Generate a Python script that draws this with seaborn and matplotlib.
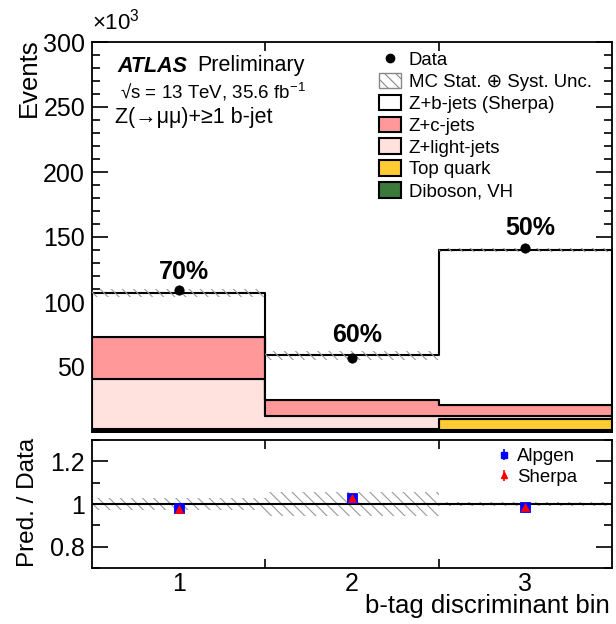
import numpy as np
import pandas as pd
import matplotlib
matplotlib.use("Agg")
import matplotlib.pyplot as plt
import seaborn as sns
from matplotlib.patches import Patch
from matplotlib.lines import Line2D
from matplotlib.ticker import MultipleLocator, FixedLocator
from matplotlib.container import ErrorbarContainer
from matplotlib.legend_handler import HandlerErrorbar

# ---------------- data (in units of 10^3 events) ----------------
bins = [1, 2, 3]
bin_edges = [0.5, 1.5, 2.5, 3.5]
processes = ["Z+b-jets (Sherpa)", "Z+c-jets", "Z+light-jets", "Top quark", "Diboson, VH"]
z_b = [34.0, 34.5, 119.0]
z_c = [32.0, 12.0, 9.0]
z_light = [39.0, 10.5, 2.0]
top_quark = [0.5, 1.0, 8.5]
diboson = [1.5, 1.0, 1.5]
data_vals = [109.0, 57.0, 141.5]
unc_rel = [0.03, 0.055, 0.01]
ratio_alpgen = [0.98, 1.03, 0.985]
ratio_sherpa = [0.975, 1.03, 0.985]
purity_labels = ["70%", "60%", "50%"]
purity_y = [123, 75, 157]
y_ticks_main = [50, 100, 150, 200, 250, 300]
y_ticks_ratio = [0.8, 1.0, 1.2]
x_tick_labels = ["1", "2", "3"]

colors = {
    "Z+b-jets (Sherpa)": "#ffffff",
    "Z+c-jets": "#ff9999",
    "Z+light-jets": "#ffe1de",
    "Top quark": "#ffcc33",
    "Diboson, VH": "#3b7a3b",
}

sns.set_style("ticks")
plt.rcParams["font.family"] = ["Liberation Sans", "DejaVu Sans"]
plt.rcParams["mathtext.fontset"] = "custom"
plt.rcParams["mathtext.rm"] = "Liberation Sans"
plt.rcParams["mathtext.it"] = "Liberation Sans:italic"
plt.rcParams["mathtext.bf"] = "Liberation Sans:bold"
plt.rcParams["hatch.linewidth"] = 0.8
plt.rcParams["axes.linewidth"] = 1.3
for k in ["text.color", "axes.labelcolor", "xtick.color", "ytick.color", "axes.edgecolor"]:
    plt.rcParams[k] = "black"

series = [z_b, z_c, z_light, top_quark, diboson]
rows = []
for proc, vals in zip(processes, series):
    for b, v in zip(bins, vals):
        rows.append({"bin": b, "events": v, "process": proc})
df = pd.DataFrame(rows)
total = np.sum(np.array(series), axis=0)

fig = plt.figure(figsize=(6.16, 6.24), dpi=100)
ax = fig.add_axes([92 / 616, 1 - 432 / 624, 520 / 616, 390 / 624])
axr = fig.add_axes([92 / 616, 1 - 568 / 624, 520 / 616, 128 / 624])

sns.histplot(data=df, x="bin", weights="events", hue="process", hue_order=processes,
             multiple="stack", bins=bin_edges, element="step", palette=colors,
             alpha=1, edgecolor="black", linewidth=1.5, legend=False, ax=ax)

hatch = "\\" * 3
for i in range(3):
    lo = total[i] * (1 - unc_rel[i])
    hi = total[i] * (1 + unc_rel[i])
    ax.fill_between([bin_edges[i], bin_edges[i + 1]], [lo, lo], [hi, hi],
                    facecolor="none", edgecolor="#999999", hatch=hatch, linewidth=0, zorder=4)
    axr.fill_between([bin_edges[i], bin_edges[i + 1]], [1 - unc_rel[i]] * 2, [1 + unc_rel[i]] * 2,
                     facecolor="none", edgecolor="#999999", hatch=hatch, linewidth=0, zorder=2)

sns.scatterplot(x=bins, y=data_vals, color="black", s=45, edgecolor="black", ax=ax, zorder=6, legend=False)

for b, lab, yv in zip(bins, purity_labels, purity_y):
    ax.text(b + 0.03, yv, lab, ha="center", va="center", fontsize=18, fontweight="bold")

ax.set_xlim(0.5, 3.5)
ax.set_ylim(0, 300)
ax.set_xlabel("")
ax.set_ylabel("")
ax.set_yticks(y_ticks_main)
ax.yaxis.set_minor_locator(MultipleLocator(10))
ax.set_xticks([1.5, 2.5])
ax.set_xticklabels([])
ax.tick_params(axis="both", which="both", direction="in", top=True, right=True, width=1.2)
ax.tick_params(axis="y", which="major", length=11.5, labelsize=18, pad=5)
ax.tick_params(axis="y", which="minor", length=5.8)
ax.tick_params(axis="x", which="major", length=6.5)

# ratio panel
axr.axhline(1.0, color="black", lw=1.5, zorder=3)
axr.errorbar(bins, ratio_alpgen, yerr=0.008, fmt="none", ecolor="blue", elinewidth=1.2, zorder=4)
sns.scatterplot(x=bins, y=ratio_alpgen, marker="s", color="blue", s=55, edgecolor="blue", ax=axr, zorder=5, legend=False)
sns.scatterplot(x=bins, y=ratio_sherpa, marker="^", color="red", s=35, edgecolor="red", ax=axr, zorder=6, legend=False)
axr.set_xlim(0.5, 3.5)
axr.set_ylim(0.7, 1.3)
axr.set_yticks(y_ticks_ratio)
axr.set_yticklabels(["0.8", "1", "1.2"])
axr.yaxis.set_minor_locator(FixedLocator([0.7, 0.9, 1.1, 1.3]))
axr.set_xticks(bins)
axr.set_xticklabels(x_tick_labels)
axr.xaxis.set_minor_locator(FixedLocator([1.5, 2.5]))
axr.tick_params(axis="both", which="both", direction="in", top=True, right=True, width=1.2)
axr.tick_params(axis="x", which="major", length=0, labelsize=18, pad=3)
axr.tick_params(axis="x", which="minor", length=6.5)
axr.tick_params(axis="y", which="major", length=11.5, labelsize=18, pad=5)
axr.tick_params(axis="y", which="minor", length=5.8)
axr.set_xlabel("")
axr.set_ylabel("")

# axis titles
fig.text(29 / 616, 1 - 38 / 624, "Events", rotation=90, ha="center", va="top", fontsize=18.5)
fig.text(92 / 616, 1 - 22 / 624, r"$\times$10$^{3}$", ha="left", va="center", fontsize=16)
fig.text(28 / 616, 1 - 438 / 624, "Pred. / Data", rotation=90, ha="center", va="top", fontsize=17.5)
fig.text(610 / 616, 1 - 613 / 624, "b-tag discriminant bin", ha="right", va="baseline", fontsize=18.5)

# ATLAS labels
fig.text(117 / 616, 1 - 66 / 624, "ATLAS", ha="left", va="center", fontsize=15.5, fontweight="bold", style="italic")
fig.text(197 / 616, 1 - 66 / 624, "Preliminary", ha="left", va="center", fontsize=15.5)
fig.text(120 / 616, 1 - 92 / 624, r"√s = 13 TeV, 35.6 fb$^{-1}$", ha="left", va="center", fontsize=13.5)
fig.text(115 / 616, 1 - 118 / 624, "Z(→μμ)+≥1 b-jet", ha="left", va="center", fontsize=15.5)

# legends
handles = [
    Line2D([], [], marker="o", color="black", linestyle="none", markersize=6),
    Patch(facecolor="white", edgecolor="#888888", hatch=hatch, linewidth=1),
] + [Patch(facecolor=colors[p], edgecolor="black", linewidth=1.5) for p in processes]
labels = ["Data", "MC Stat. ⊕ Syst. Unc."] + processes
fig.legend(handles, labels, loc="upper left", bbox_to_anchor=(379 / 616, 1 - 51 / 624),
           frameon=False, fontsize=13.4, handlelength=1.2, handleheight=0.9,
           handletextpad=0.4, labelspacing=0.2, borderpad=0, borderaxespad=0)

eb_alp = axr.errorbar([np.nan], [np.nan], yerr=[0.1], fmt="s", color="blue", markersize=5, elinewidth=1.2)
eb_sh = axr.errorbar([np.nan], [np.nan], yerr=[0.1], fmt="^", color="red", markersize=5, elinewidth=1.2)
fig.legend([eb_alp, eb_sh], ["Alpgen", "Sherpa"], loc="upper left", bbox_to_anchor=(498 / 616, 1 - 448 / 624),
           frameon=False, fontsize=13.4, handlelength=0.6, handletextpad=0.4,
           labelspacing=0.2, borderpad=0, borderaxespad=0,
           handler_map={ErrorbarContainer: HandlerErrorbar(yerr_size=0.3)})

fig.savefig("out.png", dpi=100)
